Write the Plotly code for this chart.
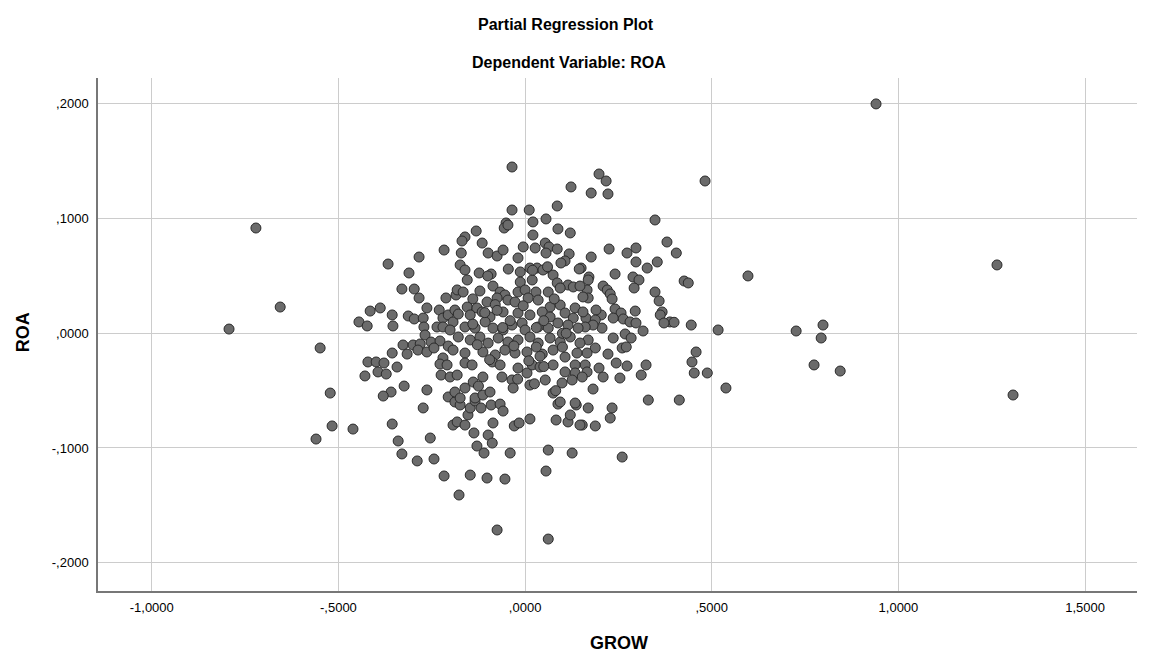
import plotly.graph_objects as go

# Partial regression residuals: GROW (x) vs ROA (y)
grow_outer = [-0.721, -0.656, -0.793, -0.549, -0.522, -0.517, -0.560, -0.461, 0.940, 1.264, 1.307,
              0.597, 0.517, 0.726, 0.798, 0.793, 0.774, 0.844, 0.488, 0.538, 0.482]
roa_outer = [0.0918, 0.0229, 0.0037, -0.0128, -0.0521, -0.0808, -0.0922, -0.0835, 0.2000, 0.0596, -0.0538,
             0.0500, 0.0029, 0.0020, 0.0072, -0.0041, -0.0276, -0.0329, -0.0346, -0.0477, 0.1328]

grow_right = [0.241, 0.289, 0.305, 0.292, 0.327, 0.426, 0.437, 0.348, 0.359, 0.367, 0.362, 0.388, 0.399, 0.372,
              0.445, 0.295, 0.241, 0.257, 0.263, 0.281, 0.297, 0.316, 0.236, 0.204, 0.190, 0.209, 0.220, 0.228,
              0.233, 0.171, 0.169, 0.166, 0.169, 0.155, 0.163, 0.188, 0.206, 0.182, 0.161, 0.268, 0.284, 0.236,
              0.260, 0.271, 0.188, 0.169, 0.166, 0.161, 0.166, 0.198, 0.209, 0.222, 0.244, 0.273, 0.254, 0.324,
              0.311, 0.458, 0.447, 0.453, 0.182, 0.330, 0.413, 0.169, 0.233, 0.153, 0.188, 0.228, 0.260,
              0.198, 0.217, 0.177, 0.222, 0.348, 0.380, 0.405, 0.225, 0.177, 0.273, 0.297, 0.297, 0.354, 0.150]
roa_right = [0.0517, 0.0491, 0.0465, 0.0395, 0.0569, 0.0456, 0.0439, 0.0360, 0.0282, 0.0186, 0.0160, 0.0099,
             0.0096, 0.0090, 0.0072, 0.0194, 0.0212, 0.0177, 0.0125, 0.0099, 0.0090, 0.0020, 0.0133, 0.0160,
             0.0203, 0.0412, 0.0378, 0.0343, 0.0299, 0.0491, 0.0465, 0.0378, 0.0308, 0.0317, 0.0133, 0.0116,
             0.0046, 0.0072, 0.0055, -0.0006, -0.0041, -0.0041, -0.0128, -0.0119, -0.0128, -0.0058, -0.0172,
             -0.0276, -0.0337, -0.0303, -0.0381, -0.0181, -0.0259, -0.0285, -0.0390, -0.0276, -0.0364, -0.0163,
             -0.0250, -0.0346, -0.0486, -0.0582, -0.0582, -0.0651, -0.0651, -0.0800, -0.0808, -0.0739, -0.1079,
             0.1389, 0.1328, 0.1223, 0.1215, 0.0988, 0.0796, 0.0700, 0.0735, 0.0665, 0.0700, 0.0744, 0.0622,
             0.0622, 0.0569]

grow_top = [-0.035, 0.123, -0.035, 0.011, 0.086, -0.051, -0.056, -0.046, 0.021, 0.056, -0.131, 0.088, 0.121,
            -0.161, -0.169, -0.115, 0.021, -0.171, -0.099, -0.075, -0.059, -0.005, 0.027, 0.054, 0.064, 0.086,
            -0.019, 0.056, 0.118, 0.107, 0.096, -0.174, -0.161, -0.123, -0.091, -0.013, 0.013, 0.032, 0.059,
            0.048, 0.145, -0.367, -0.311, -0.284, -0.217]
roa_top = [0.1450, 0.1276, 0.1075, 0.1075, 0.1110, 0.0962, 0.0918, 0.0944, 0.0971, 0.0997, 0.0892, 0.0910,
           0.0875, 0.0840, 0.0805, 0.0787, 0.0857, 0.0700, 0.0700, 0.0674, 0.0726, 0.0753, 0.0744, 0.0787,
           0.0753, 0.0735, 0.0657, 0.0700, 0.0692, 0.0631, 0.0613, 0.0596, 0.0552, 0.0526, 0.0517, 0.0535,
           0.0569, 0.0569, 0.0569, 0.0552, 0.0561, 0.0604, 0.0526, 0.0665, 0.0726]

grow_left = [-0.330, -0.297, -0.284, -0.212, -0.185, -0.415, -0.388, -0.356, -0.354, -0.445, -0.423, -0.313,
             -0.297, -0.263, -0.273, -0.271, -0.268, -0.230, -0.220, -0.236, -0.220, -0.206, -0.193, -0.201,
             -0.188, -0.327, -0.316, -0.300, -0.281, -0.287, -0.263, -0.252, -0.228, -0.206, -0.244, -0.193,
             -0.220, -0.228, -0.209, -0.225, -0.201, -0.356, -0.421, -0.399, -0.378, -0.394, -0.372, -0.343,
             -0.429, -0.324, -0.263, -0.359, -0.380, -0.273, -0.206, -0.188]
roa_left = [0.0386, 0.0386, 0.0308, 0.0308, 0.0334, 0.0194, 0.0221, 0.0160, 0.0064, 0.0099, 0.0064, 0.0151,
            0.0125, 0.0221, 0.0133, 0.0055, -0.0015, 0.0203, 0.0133, 0.0055, 0.0055, 0.0160, 0.0099, 0.0029,
            0.0203, -0.0102, -0.0181, -0.0102, -0.0093, -0.0146, -0.0163, -0.0076, -0.0067, -0.0111, -0.0128,
            -0.0146, -0.0215, -0.0268, -0.0276, -0.0364, -0.0381, -0.0172, -0.0250, -0.0250, -0.0259, -0.0337,
            -0.0355, -0.0294, -0.0372, -0.0460, -0.0494, -0.0512, -0.0547, -0.0651, -0.0555, -0.0599]

grow_bottom = [-0.356, -0.340, -0.330, -0.289, -0.244, -0.217, -0.254, -0.193, -0.182, -0.177,
               -0.174, -0.161, -0.153, -0.147, -0.134, -0.118, -0.091, -0.067, -0.059, -0.086, -0.029, -0.016,
               0.013, -0.137, -0.099, -0.088, -0.129, -0.110, -0.040, 0.062, 0.126, 0.056, -0.147, -0.102,
               -0.054, -0.075, 0.062, 0.083, 0.115, 0.121, 0.147, 0.088, 0.137]
roa_bottom = [-0.0791, -0.0939, -0.1052, -0.1113, -0.1096, -0.1244, -0.0913, -0.0800, -0.0773, -0.1410,
              -0.0625, -0.0800, -0.0712, -0.0651, -0.0590, -0.0651, -0.0625, -0.0617, -0.0678, -0.0782,
              -0.0808, -0.0782, -0.0747, -0.0869, -0.0887, -0.0957, -0.0983, -0.1044, -0.1044, -0.1018,
              -0.1044, -0.1201, -0.1236, -0.1262, -0.1271, -0.1715, -0.1794, -0.0756, -0.0773, -0.0712,
              -0.0800, -0.0617, -0.0625]

grow_center = [-0.155, -0.086, -0.013, 0.019, 0.075, 0.086, 0.115, 0.129, 0.147,
               -0.182, -0.166, -0.121, -0.067, -0.054, -0.019, 0.000, 0.029, 0.062, 0.094,
               -0.155, -0.129, -0.102, -0.075, -0.046, -0.027, 0.008, 0.035, 0.067, 0.094, 0.134, 0.155,
               -0.179, -0.147, -0.115, -0.094, -0.059, -0.019, 0.013, 0.046, 0.067, 0.107, 0.129,
               -0.161, -0.134, -0.107, -0.086, -0.059, -0.035, -0.008, 0.000, 0.035, 0.062, 0.088, 0.115, 0.142,
               -0.179, -0.147, -0.121, -0.099, -0.072, -0.046, -0.019, 0.013, 0.035, 0.067, 0.094, 0.121, 0.147,
               -0.161, -0.113, -0.080, -0.054, -0.027, 0.005, 0.046, 0.075, 0.107, 0.139,
               -0.161, -0.142, -0.088, -0.067, -0.019, 0.005, 0.019, 0.040, 0.075, 0.134, 0.134, 0.107, -0.182,
               -0.139, -0.113, -0.062, -0.035, -0.032, 0.013, 0.054, 0.099, 0.126, 0.153, -0.161, -0.188,
               -0.174, -0.134, -0.113, -0.094, 0.075, 0.094, 0.134,
               -0.140, -0.108, -0.080, -0.040, -0.005, 0.030, 0.050, 0.078, 0.100, 0.030,
               -0.128, -0.095, -0.030, 0.010, 0.050, 0.100, -0.140, -0.075, -0.020, 0.025, 0.082,
               -0.125, -0.060, 0.040, 0.110, -0.100, -0.045, 0.020, 0.060]
roa_center = [0.0465, 0.0412, 0.0447, 0.0465, 0.0508, 0.0439, 0.0421, 0.0404, 0.0412,
              0.0378, 0.0360, 0.0369, 0.0360, 0.0334, 0.0360, 0.0378, 0.0360, 0.0360, 0.0395,
              0.0229, 0.0221, 0.0273, 0.0308, 0.0290, 0.0273, 0.0308, 0.0290, 0.0229, 0.0247, 0.0221, 0.0186,
              0.0168, 0.0160, 0.0186, 0.0142, 0.0186, 0.0177, 0.0160, 0.0186, 0.0142, 0.0177, 0.0133,
              0.0055, 0.0046, 0.0099, 0.0046, 0.0029, 0.0072, 0.0090, 0.0029, 0.0055, 0.0046, 0.0090, 0.0072, 0.0046,
              -0.0032, -0.0058, -0.0032, -0.0085, -0.0041, -0.0076, -0.0058, -0.0032, -0.0085, -0.0041, -0.0076,
              -0.0032, -0.0085,
              -0.0172, -0.0163, -0.0189, -0.0146, -0.0172, -0.0163, -0.0181, -0.0146, -0.0207, -0.0172,
              -0.0259, -0.0276, -0.0250, -0.0276, -0.0303, -0.0346, -0.0276, -0.0294, -0.0276, -0.0276, -0.0346,
              -0.0337, -0.0364,
              -0.0425, -0.0381, -0.0381, -0.0407, -0.0477, -0.0451, -0.0407, -0.0433, -0.0407, -0.0381, -0.0477,
              -0.0512,
              -0.0564, -0.0564, -0.0538, -0.0512, -0.0521, -0.0599, -0.0608,
              0.0080, 0.0180, 0.0250, 0.0110, 0.0240, 0.0050, 0.0110, 0.0300, 0.0000, -0.0120,
              -0.0100, -0.0230, -0.0110, -0.0240, -0.0290, -0.0120, 0.0300, 0.0200, -0.0400, -0.0440, -0.0500,
              -0.0460, 0.0050, -0.0200, 0.0000, 0.0500, 0.0560, 0.0550, 0.0580]

x_tick_vals = [-1.0, -0.5, 0.0, 0.5, 1.0, 1.5]
x_tick_text = ["-1,0000", "-,5000", ",0000", ",5000", "1,0000", "1,5000"]
y_tick_vals = [0.2, 0.1, 0.0, -0.1, -0.2]
y_tick_text = [",2000", ",1000", ",0000", "-,1000", "-,2000"]

grow = grow_outer + grow_right + grow_top + grow_left + grow_bottom + grow_center
roa = roa_outer + roa_right + roa_top + roa_left + roa_bottom + roa_center

FONT = "Liberation Sans, Arial, sans-serif"

fig = go.Figure()
fig.add_trace(go.Scatter(
    x=grow, y=roa, mode="markers",
    marker=dict(size=10, color="#6b6b6b", line=dict(color="#2b2b2b", width=1)),
    showlegend=False, hoverinfo="x+y"))

fig.update_layout(
    width=1149, height=660,
    margin=dict(l=98, r=12, t=78, b=69),
    paper_bgcolor="white", plot_bgcolor="white",
    font=dict(family=FONT, size=13, color="#000000"),
    xaxis=dict(range=[-1.144, 1.639], tickvals=x_tick_vals, ticktext=x_tick_text,
               showgrid=True, gridcolor="#cccccc", gridwidth=1, zeroline=False,
               showline=True, linecolor="#777777", linewidth=1.5, ticks="", ticklabelstandoff=4,
               tickfont=dict(size=13, family=FONT)),
    yaxis=dict(range=[-0.2247, 0.2226], tickvals=y_tick_vals, ticktext=y_tick_text,
               showgrid=True, gridcolor="#cccccc", gridwidth=1, zeroline=False,
               showline=True, linecolor="#777777", linewidth=1.5, ticks="", ticklabelstandoff=5,
               tickfont=dict(size=13, family=FONT)),
    annotations=[
        dict(text="<b>Partial Regression Plot</b>", xref="paper", yref="paper", x=0.450, y=1.105,
             xanchor="center", yanchor="middle", showarrow=False, font=dict(size=16, family=FONT)),
        dict(text="<b>Dependent Variable: ROA</b>", xref="paper", yref="paper", x=0.453, y=1.031,
             xanchor="center", yanchor="middle", showarrow=False, font=dict(size=16, family=FONT)),
        dict(text="<b>ROA</b>", xref="paper", yref="paper", x=-0.072, y=0.505, textangle=-90,
             xanchor="center", yanchor="middle", showarrow=False, font=dict(size=18, family=FONT)),
        dict(text="<b>GROW</b>", xref="paper", yref="paper", x=0.501, y=-0.101,
             xanchor="center", yanchor="middle", showarrow=False, font=dict(size=18, family=FONT)),
    ],
)

fig.write_html("out.html")
